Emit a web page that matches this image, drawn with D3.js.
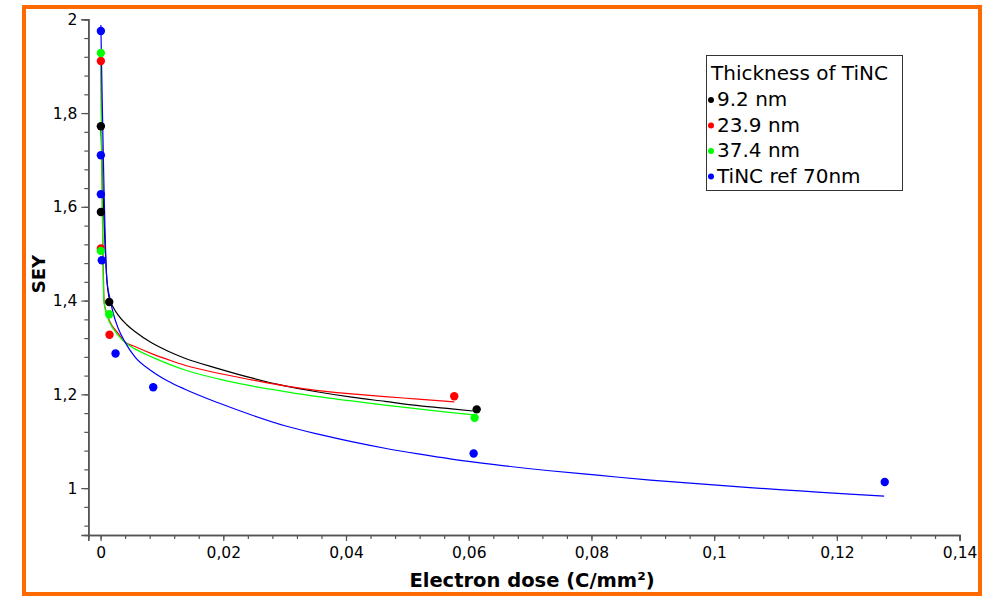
<!DOCTYPE html>
<html>
<head>
<meta charset="utf-8">
<script src="https://cdn.jsdelivr.net/npm/d3@7"></script>
<style>
  html, body { margin: 0; padding: 0; background: #fff; }
  svg { display: block; }
  text { font-family: "DejaVu Sans", sans-serif; fill: #000; }
</style>
</head>
<body>
<svg id="chart" width="995" height="596"></svg>
<script>
// Measured SEY points per coating: [electron dose (C/mm²), SEY]
const black92 = [[0.00005, 1.772], [0.00005, 1.589], [0.00141, 1.397], [0.0613, 1.168]];
const red239 = [[0.00005, 1.911], [0.00005, 1.511], [0.00146, 1.327], [0.05764, 1.196]];
const green374 = [[0.00005, 1.928], [0.00005, 1.506], [0.00141, 1.371], [0.06096, 1.150]];
const blueRef = [[0.00005, 1.975], [0.00005, 1.710], [0.00005, 1.627], [0.0002, 1.486],
                 [0.00244, 1.287], [0.00858, 1.215], [0.0608, 1.074], [0.1278, 1.013]];

// Fitted decay curves for each coating: [dose, SEY]
const fitBlack92 = [[0.00005, 1.772], [0.00103, 1.444], [0.00141, 1.405], [0.00206, 1.386],
  [0.00287, 1.369], [0.00423, 1.349], [0.00559, 1.334], [0.00831, 1.310], [0.01102, 1.292],
  [0.01374, 1.277], [0.01917, 1.255], [0.02461, 1.235], [0.03004, 1.218], [0.03547, 1.205],
  [0.04091, 1.194], [0.04634, 1.185], [0.05177, 1.176], [0.05721, 1.169], [0.06112, 1.164]];
const fitRed239 = [[0.00005, 1.911], [0.00059, 1.396], [0.00100, 1.373], [0.00152, 1.355],
  [0.00287, 1.330], [0.00396, 1.312], [0.00559, 1.302], [0.00831, 1.287], [0.01102, 1.274],
  [0.01374, 1.262], [0.01917, 1.245], [0.02461, 1.231], [0.03004, 1.218], [0.03547, 1.208],
  [0.04091, 1.201], [0.04634, 1.195], [0.05177, 1.190], [0.05764, 1.184]];
const fitGreen374 = [[0.00005, 1.928], [0.00054, 1.398], [0.00100, 1.370], [0.00152, 1.352],
  [0.00287, 1.326], [0.00396, 1.311], [0.00559, 1.297], [0.00831, 1.280], [0.01102, 1.265],
  [0.01374, 1.252], [0.01917, 1.233], [0.02461, 1.218], [0.03004, 1.206], [0.03547, 1.195],
  [0.04091, 1.186], [0.04634, 1.177], [0.05177, 1.169], [0.05721, 1.161], [0.06096, 1.156]];
const fitBlueRef = [[0.00005, 1.988], [0.00103, 1.444], [0.00152, 1.405], [0.00206, 1.373],
  [0.00287, 1.341], [0.00396, 1.312], [0.00559, 1.280], [0.00831, 1.250], [0.01102, 1.228],
  [0.01374, 1.211], [0.01917, 1.182], [0.02461, 1.156], [0.03004, 1.133], [0.03547, 1.115],
  [0.04091, 1.099], [0.04634, 1.085], [0.05177, 1.073], [0.05721, 1.062], [0.06427, 1.050],
  [0.0732, 1.037], [0.0814, 1.027], [0.0896, 1.017], [0.0977, 1.009], [0.1058, 1.001],
  [0.1140, 0.994], [0.1221, 0.987], [0.1277, 0.983]];

const seriesNames = ["9.2 nm", "23.9 nm", "37.4 nm", "TiNC ref 70nm"];
const seriesColors = ["#000000", "#ff0000", "#00ff00", "#0000ff"];
const seriesPoints = [black92, red239, green374, blueRef];
const seriesFits = [fitBlack92, fitRed239, fitGreen374, fitBlueRef];

const xTickValues = [0, 0.02, 0.04, 0.06, 0.08, 0.1, 0.12, 0.14];
const xTickLabels = ["0", "0,02", "0,04", "0,06", "0,08", "0,1", "0,12", "0,14"];
const yTickValues = [1, 1.2, 1.4, 1.6, 1.8, 2];
const yTickLabels = ["1", "1,2", "1,4", "1,6", "1,8", "2"];
const xMinorStep = 0.004;
const yMinorStep = 0.04;

const legendTitle = "Thickness of TiNC";
const xTitle = "Electron dose (C/mm²)";
const yTitle = "SEY";

const svg = d3.select("#chart");

// orange outer frame
svg.append("rect")
  .attr("x", 24).attr("y", 7).attr("width", 956).attr("height", 587)
  .attr("fill", "#fff").attr("stroke", "#ff6a00").attr("stroke-width", 4);

const x = d3.scaleLinear().domain([-0.002, 0.14]).range([88.3, 959.6]);
const y = d3.scaleLinear().domain([0.9, 2]).range([535, 19.3]);

const axisColor = "#555";

// minor ticks
const xMinor = d3.range(0, 0.14 + 1e-9, xMinorStep);
const yMinor = d3.range(0.92, 2 + 1e-9, yMinorStep);

const xAxisMinor = d3.axisBottom(x).tickValues(xMinor).tickSize(4).tickFormat("");
const xAxisMajor = d3.axisBottom(x).tickValues(xTickValues).tickSize(6)
  .tickFormat((d, i) => xTickLabels[i]).tickPadding(6);
const yAxisMinor = d3.axisLeft(y).tickValues(yMinor).tickSize(4).tickFormat("");
const yAxisMajor = d3.axisLeft(y).tickValues(yTickValues).tickSize(7)
  .tickFormat((d, i) => yTickLabels[i]).tickPadding(4);

function styleAxis(g) {
  g.select(".domain").attr("stroke", axisColor).attr("stroke-width", 1.6);
  g.selectAll(".tick line").attr("stroke", axisColor).attr("stroke-width", 1.2);
  g.selectAll(".tick text").attr("font-family", "DejaVu Sans, sans-serif")
    .attr("font-size", 15.5).attr("fill", "#000");
}

svg.append("g").attr("transform", "translate(0,535)").call(xAxisMinor).call(styleAxis);
svg.append("g").attr("transform", "translate(0,535)").call(xAxisMajor).call(styleAxis);
svg.append("g").attr("transform", "translate(88.3,0)").call(yAxisMinor).call(styleAxis);
svg.append("g").attr("transform", "translate(88.3,0)").call(yAxisMajor).call(styleAxis);

// axis titles
svg.append("text")
  .attr("x", 532).attr("y", 587)
  .attr("text-anchor", "middle")
  .attr("font-size", 19.5).attr("font-weight", "bold")
  .text(xTitle);
svg.append("text")
  .attr("transform", "translate(45,274) rotate(-90)")
  .attr("text-anchor", "middle")
  .attr("font-size", 18).attr("font-weight", "bold")
  .text(yTitle);

// fitted curves
const line = d3.line().x(d => x(d[0])).y(d => y(d[1])).curve(d3.curveMonotoneX);
seriesFits.forEach((fit, i) => {
  svg.append("path").datum(fit)
    .attr("fill", "none")
    .attr("stroke", seriesColors[i])
    .attr("stroke-width", 1.2)
    .attr("d", line);
});

// measured points
seriesPoints.forEach((pts, i) => {
  svg.append("g").selectAll("circle").data(pts).join("circle")
    .attr("cx", d => x(d[0])).attr("cy", d => y(d[1]))
    .attr("r", 4.2).attr("fill", seriesColors[i]);
});

// legend
const lg = svg.append("g");
lg.append("rect").attr("x", 706.5).attr("y", 55.5).attr("width", 196).attr("height", 135)
  .attr("fill", "#fff").attr("stroke", "#333").attr("stroke-width", 1);
lg.append("text").attr("x", 711).attr("y", 80).attr("font-size", 20).text(legendTitle);
seriesNames.forEach((name, i) => {
  const by = 106 + i * 25.5;
  lg.append("circle").attr("cx", 711).attr("cy", by - 6).attr("r", 3).attr("fill", seriesColors[i]);
  lg.append("text").attr("x", 717).attr("y", by).attr("font-size", 20).text(name);
});
</script>
</body>
</html>
